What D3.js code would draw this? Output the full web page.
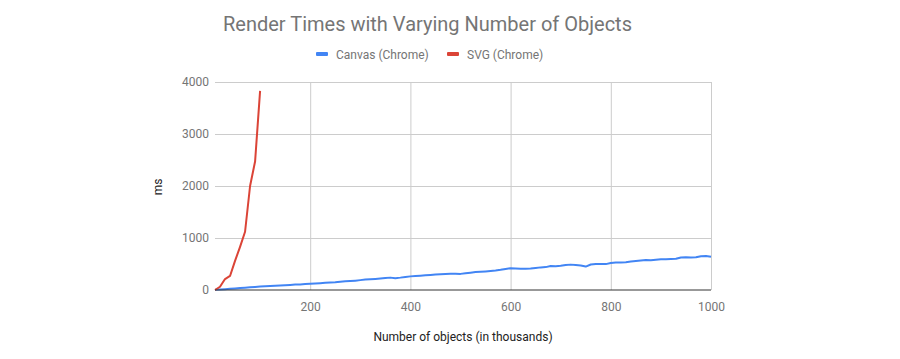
<!DOCTYPE html>
<html>
<head>
<meta charset="utf-8">
<script src="https://cdn.jsdelivr.net/npm/d3@7/dist/d3.min.js"></script>
<style>
  body { margin: 0; background: #fff; }
  svg { display: block; font-family: Roboto, "Noto Sans", sans-serif; }
</style>
</head>
<body>
<svg id="chart" width="900" height="359"></svg>
<script>
const title = "Render Times with Varying Number of Objects";
const seriesNames = ["Canvas (Chrome)", "SVG (Chrome)"];
const seriesColors = ["#4285F4", "#DB4437"];
const xTicks = [200, 400, 600, 800, 1000];
const yTicks = [0, 1000, 2000, 3000, 4000];

const canvasX = d3.range(10, 1001, 10);
const canvasY = [
  5, 10, 15, 22, 30, 37, 45, 52, 60, 66,
  72, 77, 82, 88, 93, 98, 104, 108, 114, 120,
  126, 132, 138, 145, 150, 158, 166, 172, 180, 190,
  200, 206, 212, 220, 230, 238, 228, 238, 252, 262,
  268, 275, 282, 290, 300, 305, 308, 312, 312, 310,
  320, 332, 345, 350, 356, 364, 374, 388, 405, 418,
  412, 408, 410, 412, 425, 435, 440, 462, 458, 465,
  480, 488, 482, 470, 450, 490, 500, 502, 498, 520,
  530, 528, 535, 548, 556, 566, 575, 570, 580, 590,
  592, 596, 600, 625, 630, 625, 628, 650, 655, 640
];
const svgX = [10, 20, 30, 40, 50, 60, 70, 80, 90, 100];
const svgY = [0, 63, 211, 270, 560, 830, 1120, 2000, 2470, 3830];

const svg = d3.select("#chart");
const x = d3.scaleLinear().domain([10, 1000]).range([215, 711]);
const y = d3.scaleLinear().domain([0, 4000]).range([290, 82]);
const fmt = d3.format("d");

// title
svg.append("text").attr("x", 223).attr("y", 31)
  .attr("font-size", 20).attr("fill", "#757575").text(title);

// legend
const legendItems = [
  {name: seriesNames[0], color: seriesColors[0], sx: 316, tx: 336},
  {name: seriesNames[1], color: seriesColors[1], sx: 447, tx: 467}
];
legendItems.forEach(l => {
  svg.append("rect").attr("x", l.sx).attr("y", 52).attr("width", 12).attr("height", 4)
    .attr("rx", 1).attr("fill", l.color);
  svg.append("text").attr("x", l.tx).attr("y", 58.5).attr("font-size", 12)
    .attr("fill", "#757575").text(l.name);
});

// grid
const yGrid = svg.append("g").attr("transform", "translate(215,0)")
  .call(d3.axisLeft(y).tickValues(yTicks.filter(d => d > 0)).tickSize(-496).tickFormat(""));
yGrid.select(".domain").remove();
yGrid.selectAll("line").attr("stroke", "#cccccc");

const xGrid = svg.append("g").attr("transform", "translate(0,82)")
  .call(d3.axisTop(x).tickValues(xTicks).tickSize(-208).tickFormat(""));
xGrid.select(".domain").remove();
xGrid.selectAll("line").attr("stroke", "#cccccc");

// y axis labels
const yAxis = svg.append("g").attr("transform", "translate(215,0)")
  .call(d3.axisLeft(y).tickValues(yTicks).tickSize(0).tickPadding(6).tickFormat(fmt));
yAxis.select(".domain").remove();
yAxis.selectAll("text").attr("font-size", 12).attr("fill", "#757575")
  .attr("font-family", "Roboto, sans-serif");

// x axis labels
const xAxis = svg.append("g").attr("transform", "translate(0,290)")
  .call(d3.axisBottom(x).tickValues(xTicks).tickSize(0).tickPadding(12).tickFormat(fmt));
xAxis.select(".domain").remove();
xAxis.selectAll("text").attr("font-size", 12).attr("fill", "#757575")
  .attr("font-family", "Roboto, sans-serif");

// lines
const line = d3.line().x(d => x(d[0])).y(d => y(d[1]));
svg.append("path").datum(canvasX.map((v, i) => [v, canvasY[i]]))
  .attr("d", line).attr("fill", "none").attr("stroke", seriesColors[0])
  .attr("stroke-width", 2).attr("stroke-linejoin", "round");
svg.append("path").datum(svgX.map((v, i) => [v, svgY[i]]))
  .attr("d", line).attr("fill", "none").attr("stroke", seriesColors[1])
  .attr("stroke-width", 2).attr("stroke-linejoin", "round");

// baseline
svg.append("line").attr("x1", 215).attr("x2", 711).attr("y1", y(0)).attr("y2", y(0))
  .attr("stroke", "#333333").attr("stroke-width", 1);

// axis titles
svg.append("text").attr("x", 463).attr("y", 341).attr("text-anchor", "middle")
  .attr("font-size", 12).attr("fill", "#222222").text("Number of objects (in thousands)");
svg.append("text").attr("transform", "translate(162,187) rotate(-90)")
  .attr("text-anchor", "middle").attr("font-size", 12).attr("fill", "#222222").text("ms");
</script>
</body>
</html>
